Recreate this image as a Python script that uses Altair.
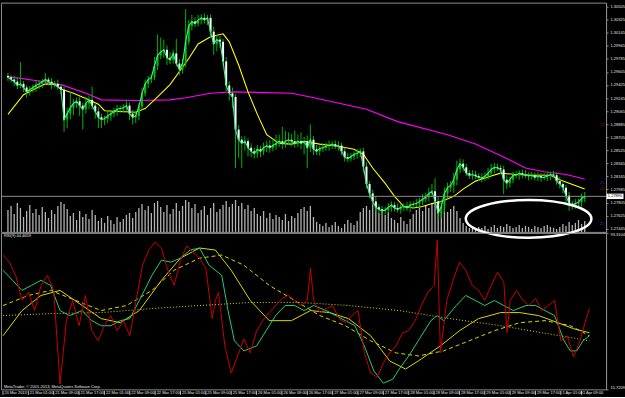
import altair as alt
import pandas as pd

# ---------------- data ----------------
close = [1.2953, 1.2950, 1.2947, 1.2942, 1.2944, 1.2939, 1.2933, 1.2936, 1.2939, 1.2942,
         1.2944, 1.2947, 1.2950, 1.2947, 1.2944, 1.2944, 1.2940, 1.2936, 1.2895, 1.2903,
         1.2911, 1.2917, 1.2920, 1.2914, 1.2909, 1.2917, 1.2922, 1.2914, 1.2906, 1.2898,
         1.2895, 1.2896, 1.2900, 1.2903, 1.2906, 1.2909, 1.2910, 1.2911, 1.2914, 1.2903,
         1.2898, 1.2900, 1.2913, 1.2931, 1.2944, 1.2950, 1.2953, 1.2969, 1.2983, 1.2988,
         1.2991, 1.2980, 1.2977, 1.2986, 1.2972, 1.2964, 1.2972, 1.3002, 1.3024, 1.3030,
         1.3027, 1.3032, 1.3035, 1.3032, 1.3035, 1.3016, 1.2999, 1.3005, 1.3002, 1.2975,
         1.2942, 1.2931, 1.2926, 1.2881, 1.2867, 1.2862, 1.2865, 1.2856, 1.2851, 1.2848,
         1.2854, 1.2851, 1.2856, 1.2859, 1.2856, 1.2859, 1.2862, 1.2865, 1.2862, 1.2865,
         1.2867, 1.2865, 1.2862, 1.2865, 1.2862, 1.2865, 1.2856, 1.2867, 1.2854, 1.2851,
         1.2855, 1.2856, 1.2858, 1.2859, 1.2861, 1.2858, 1.2859, 1.2851, 1.2843, 1.2841,
         1.2844, 1.2847, 1.2848, 1.2851, 1.2830, 1.2806, 1.2793, 1.2782, 1.2774, 1.2771,
         1.2769, 1.2770, 1.2774, 1.2777, 1.2773, 1.2771, 1.2774, 1.2775, 1.2773, 1.2777,
         1.2778, 1.2779, 1.2782, 1.2785, 1.2788, 1.2793, 1.2796, 1.2782, 1.2766, 1.2775,
         1.2793, 1.2801, 1.2804, 1.2812, 1.2826, 1.2834, 1.2829, 1.2821, 1.2818, 1.2819,
         1.2817, 1.2815, 1.2814, 1.2817, 1.2821, 1.2826, 1.2829, 1.2828, 1.2826, 1.2812,
         1.2807, 1.2812, 1.2818, 1.2818, 1.2821, 1.2819, 1.2818, 1.2817, 1.2818, 1.2815,
         1.2817, 1.2815, 1.2815, 1.2817, 1.2819, 1.2818, 1.2810, 1.2806, 1.2801, 1.2790,
         1.2779, 1.2777, 1.2779, 1.2781, 1.2786, 1.2789]
first_open = 1.2955

# upper / lower wick lengths in pips
wick_up = [4, 3, 5, 6, 30, 4, 3, 5, 4, 6,
           5, 4, 9, 3, 5, 4, 6, 3, 4, 8,
           22, 6, 5, 7, 4, 9, 5, 18, 4, 6,
           5, 4, 7, 3, 5, 6, 4, 5, 8, 4,
           5, 6, 4, 7, 6, 5, 4, 12, 29, 20,
           14, 6, 8, 5, 20, 6, 7, 45, 8, 9,
           6, 7, 5, 6, 4, 5, 7, 6, 5, 4,
           6, 5, 8, 4, 6, 5, 7, 4, 6, 5,
           6, 5, 7, 6, 8, 10, 12, 9, 20, 14,
           10, 8, 15, 9, 12, 6, 8, 21, 5, 6,
           4, 6, 5, 7, 4, 5, 6, 4, 5, 6,
           5, 4, 6, 4, 5, 6, 4, 5, 6, 4,
           5, 4, 6, 5, 4, 6, 5, 4, 6, 5,
           4, 6, 5, 7, 6, 8, 10, 18, 6, 9,
           8, 7, 6, 9, 12, 7, 6, 5, 4, 6,
           5, 4, 6, 5, 7, 8, 6, 5, 4, 5,
           6, 4, 5, 6, 4, 5, 6, 4, 5, 4,
           5, 4, 6, 5, 4, 5, 4, 6, 5, 4,
           5, 4, 6, 5, 7, 6]
wick_dn = [5, 4, 6, 5, 4, 6, 8, 5, 4, 6,
           5, 6, 4, 5, 7, 5, 4, 6, 17, 12,
           8, 10, 6, 14, 28, 6, 8, 5, 10, 15,
           12, 8, 6, 7, 5, 6, 5, 6, 4, 9,
           10, 8, 6, 5, 4, 6, 5, 4, 6, 5,
           8, 10, 6, 5, 4, 8, 6, 5, 4, 6,
           5, 4, 6, 5, 7, 9, 15, 10, 8, 6,
           8, 10, 15, 53, 25, 34, 10, 12, 8, 7,
           6, 8, 5, 6, 7, 5, 6, 5, 8, 6,
           5, 7, 6, 5, 8, 15, 28, 6, 8, 5,
           6, 5, 4, 6, 5, 4, 6, 5, 6, 5,
           4, 5, 6, 5, 8, 6, 7, 4, 6, 5,
           6, 5, 4, 6, 5, 4, 6, 5, 4, 6,
           5, 4, 6, 5, 4, 6, 5, 4, 9, 6,
           8, 7, 6, 10, 8, 5, 6, 4, 5, 6,
           4, 5, 6, 4, 5, 6, 5, 4, 6, 20,
           8, 6, 5, 4, 6, 5, 4, 6, 5, 4,
           5, 6, 4, 5, 6, 4, 5, 6, 8, 10,
           10, 6, 5, 4, 6, 5]

volume = [2200, 2600, 1800, 2900, 2400, 1500, 2100, 2700, 1900, 2300,
          1700, 2500, 2000, 1400, 2200, 1800, 2600, 3000, 2800, 2300,
          1600, 1900, 1200, 2100, 1500, 1800, 1300, 2200, 1700, 1100,
          1400, 900, 1600, 1200, 800, 1500, 1000, 1300, 1700, 1900,
          1400, 2000, 2400, 2800, 2200, 2600, 1900, 2900, 3100, 2500,
          2000, 2700, 1800, 2300, 2900, 2100, 2600, 3200, 3000, 2400,
          2800, 1900, 2200, 2600, 1700, 2400, 2900, 2000, 2300, 2700,
          3100, 2500, 2800, 3200, 2600, 2900, 2300, 2700, 2100, 2400,
          1800, 1600, 2100, 1400, 1900, 1300, 1700, 1500, 1200, 1800,
          1100, 1600, 1400, 1900, 2300, 2500, 2100, 2600, 1500, 1000,
          800, 600, 900, 500, 700, 1000, 600, 400, 800, 1200,
          900, 700, 1100, 2000, 2400, 2600, 2200, 2800, 2500, 1900,
          2300, 1700, 2000, 1400, 1200, 900, 1500, 1100, 800, 1300,
          1800, 2200, 2500, 2100, 2700, 2400, 2900, 3000, 2600, 2200,
          2500, 2000, 2300, 2600, 2100, 1400, 900, 600, 400, 500,
          300, 500, 400, 600, 300, 500, 700, 400, 600, 500,
          800, 600, 400, 500, 700, 400, 600, 500, 300, 600,
          500, 400, 600, 700, 500, 400, 300, 500, 800, 600,
          1000, 700, 900, 1200, 800, 1100]

fast_ma_bar = [0, 5, 10, 12, 15, 17, 21, 25, 29, 31, 36, 41, 44, 47, 52, 55, 58, 61, 65, 69,
               71, 74, 77, 80, 83, 87, 91, 95, 100, 106, 111, 114, 117, 121, 124, 127, 130,
               133, 136, 139, 143, 146, 150, 155, 158, 163, 169, 174, 177, 180, 185]
fast_ma = [1.2902, 1.2929, 1.2940, 1.2944, 1.2943, 1.2937, 1.2931, 1.2924, 1.2916, 1.2907,
           1.2906, 1.2905, 1.2910, 1.2922, 1.2943, 1.2961, 1.2979, 1.2999, 1.3009, 1.3013,
           1.3002, 1.2970, 1.2933, 1.2902, 1.2874, 1.2862, 1.2861, 1.2865, 1.2861, 1.2858,
           1.2854, 1.2847, 1.2828, 1.2807, 1.2789, 1.2775, 1.2773, 1.2775, 1.2779, 1.2782,
           1.2789, 1.2799, 1.2810, 1.2817, 1.2821, 1.2819, 1.2818, 1.2818, 1.2812, 1.2807,
           1.2799]

slow_ma_bar = [0, 10, 17, 25, 30, 41, 52, 57, 65, 72, 82, 91, 97, 115, 125, 141, 150, 160,
               166, 172, 179, 185]
slow_ma = [1.2954, 1.2948, 1.2943, 1.2931, 1.2922, 1.2921, 1.2922, 1.2925, 1.2931, 1.2933,
           1.2932, 1.2931, 1.2926, 1.2909, 1.2892, 1.2874, 1.2861, 1.2841, 1.2828, 1.2823,
           1.2819, 1.2813]

rsi_bar = [0, 2, 4, 6, 8, 10, 12, 14, 16, 18, 20, 22, 24, 26, 28, 30, 32, 34, 36, 38, 40,
           42, 44, 46, 48, 50, 52, 54, 56, 58, 60, 62, 64, 66, 67, 68, 70, 72, 74, 76, 78,
           80, 82, 84, 86, 88, 90, 92, 94, 96, 97, 98, 100, 102, 104, 106, 108, 110, 112,
           114, 116, 118, 120, 122, 124, 126, 128, 130, 132, 134, 136, 137, 138, 140, 142,
           144, 146, 148, 150, 152, 154, 156, 158, 159, 160, 162, 164, 166, 168, 170, 172,
           174, 176, 178, 180, 182, 184, 185]
rsi = [82.3, 78.8, 72.3, 59.8, 63.8, 54.8, 67.3, 72.3, 64.8, 18.3, 49.8, 59.8, 47.3, 62.3,
       44.8, 39.8, 47.3, 52.3, 44.8, 49.8, 42.3, 59.8, 77.3, 84.8, 88.8, 85.8, 74.8, 67.3,
       79.8, 86.8, 83.8, 80.8, 75.8, 50.8, 59.8, 63.8, 37.3, 23.8, 32.3, 40.8, 33.8, 44.8,
       49.8, 53.8, 57.3, 60.8, 62.3, 59.8, 57.3, 59.8, 75.8, 59.8, 53.8, 55.8, 57.3, 50.8,
       48.8, 52.3, 54.8, 33.8, 23.8, 21.8, 28.8, 33.8, 37.3, 43.8, 44.8, 49.8, 57.3, 63.8,
       67.3, 89.8, 33.8, 59.8, 69.8, 78.8, 74.8, 67.3, 64.8, 59.8, 67.3, 73.8, 68.8, 43.8,
       59.8, 64.8, 59.8, 57.3, 60.8, 54.8, 57.3, 59.8, 39.8, 42.3, 31.8, 39.8, 50.8, 55.8]

green_bar = [0, 3, 6, 9, 12, 15, 18, 21, 25, 28, 31, 34, 37, 40, 43, 47, 50, 53, 56, 59,
             62, 65, 69, 71, 73, 76, 80, 83, 86, 89, 92, 95, 98, 102, 105, 108, 111, 114,
             117, 120, 123, 125, 128, 131, 135, 137, 139, 143, 146, 149, 152, 155, 158, 161,
             165, 168, 171, 174, 177, 179, 181, 183, 185]
green = [74.8, 69.8, 64.8, 67.3, 69.8, 67.3, 54.8, 52.3, 54.8, 49.8, 47.3, 47.3, 49.8, 50.8,
         59.8, 72.3, 79.8, 78.8, 80.8, 84.8, 85.8, 77.3, 72.3, 54.8, 39.8, 34.8, 37.3, 44.8,
         52.3, 57.3, 57.3, 54.8, 57.3, 54.8, 52.3, 49.8, 47.3, 37.3, 24.8, 18.8, 20.8, 25.8,
         32.3, 39.8, 49.8, 52.3, 49.8, 57.3, 62.3, 59.8, 57.3, 59.8, 57.3, 54.8, 57.3, 57.3,
         54.8, 52.3, 39.8, 34.8, 34.8, 39.8, 42.3]

ysolid_bar = [0, 6, 12, 18, 25, 31, 37, 43, 50, 56, 62, 67, 72, 78, 84, 91, 97, 103, 109,
              116, 122, 127, 131, 138, 144, 150, 157, 163, 169, 175, 180, 185]
ysolid = [42.3, 54.8, 62.3, 64.8, 57.3, 50.8, 48.8, 54.8, 69.8, 80.8, 85.8, 84.8, 74.8, 59.8,
          49.8, 49.8, 54.8, 53.8, 50.8, 42.3, 29.8, 25.8, 29.8, 37.3, 44.8, 50.8, 53.8, 53.8,
          52.3, 48.8, 45.8, 43.8]

ydash_bar = [0, 8, 15, 23, 31, 39, 47, 54, 62, 69, 76, 84, 92, 100, 108, 116, 124, 131, 139,
             147, 155, 163, 171, 179, 185]
ydash = [57.3, 62.3, 64.8, 59.8, 54.8, 57.3, 64.8, 74.8, 80.8, 82.3, 77.3, 67.3, 59.8, 52.3,
         47.3, 39.8, 33.8, 32.3, 34.8, 39.8, 44.8, 48.8, 49.8, 47.3, 42.3]

ydot_bar = [0, 15, 31, 47, 62, 78, 94, 109, 125, 141, 157, 172, 185]
ydot = [52.3, 53.3, 53.8, 55.8, 57.3, 58.8, 58.8, 57.3, 54.8, 50.8, 47.3, 43.3, 39.8]

price_ticks = [1.30505, 1.30325, 1.30145, 1.29965, 1.29785, 1.29605, 1.29425, 1.29245,
               1.29065, 1.28885, 1.28705, 1.28525, 1.28345, 1.28165, 1.27985, 1.27805,
               1.27625, 1.27445]
rsi_ticks = [15.7209, 93.3104]

time_labels = ["20 Mar 2013", "21 Mar 01:00", "21 Mar 09:00", "21 Mar 17:00", "22 Mar 01:00",
               "22 Mar 09:00", "22 Mar 17:00", "25 Mar 01:00", "25 Mar 09:00", "25 Mar 17:00",
               "26 Mar 01:00", "26 Mar 09:00", "26 Mar 17:00", "27 Mar 01:00", "27 Mar 09:00",
               "27 Mar 17:00", "28 Mar 01:00", "28 Mar 09:00", "28 Mar 17:00", "29 Mar 01:00",
               "29 Mar 09:00", "29 Mar 17:00", "1 Apr 01:00", "1 Apr 09:00"]
time_label_bars = [0, 8, 16, 24, 32, 40, 48, 56, 64, 72, 80, 88, 96, 104, 112, 120, 128,
                   136, 144, 152, 160, 168, 176, 182.5]

current_price = [1.2789]
current_label = ["1.27890"]
ellipse_bar = [167]
ellipse_price = [1.2758]
side_tags = ["20", "21", "20", "21"]
side_tag_price = [1.2887, 1.2807, 1.2799, 1.2751]
side_tag_color = ["#c00000", "#2040ff", "#c00000", "#2040ff"]

# ---------------- tables ----------------
n = len(close)
opens = [first_open] + close[:-1]
candles = pd.DataFrame({
    "bar": list(range(n)),
    "open": opens,
    "close": close,
    "high": [max(o, c) + u / 10000 for o, c, u in zip(opens, close, wick_up)],
    "low": [min(o, c) - d / 10000 for o, c, d in zip(opens, close, wick_dn)],
    "volume": volume,
})
candles["body"] = ["#00c000" if c >= o else "#ffffff" for o, c in zip(opens, close)]


def sdf(b, v):
    return pd.DataFrame({"bar": b, "v": v})


FONT = "Liberation Sans"
GRAY = "#8c8c8c"
W = 607
H_MAIN = 230
H_RSI = 157

xscale = alt.Scale(domain=[-0.63, 190.25], nice=False, zero=False)
X = alt.X("bar:Q", scale=xscale, axis=None)

price_scale = alt.Scale(domain=[1.2740, 1.3056], nice=False, zero=False)
price_axis = alt.Axis(orient="right", values=price_ticks, format=".5f", title=None, grid=False,
                      labelColor="#e6e6e6", labelFont=FONT, labelFontSize=4, labelPadding=2,
                      tickColor=GRAY, tickSize=2, domainColor=GRAY, labelOverlap=False)


def PY(field):
    return alt.Y(field, scale=price_scale, axis=price_axis)


wicks = alt.Chart(candles).mark_rule(color="#00b400", strokeWidth=1).encode(
    x=X, y=PY("low:Q"), y2="high:Q")
bodies = alt.Chart(candles).mark_bar(width=2).encode(
    x=X, y=PY("open:Q"), y2="close:Q", color=alt.Color("body:N", scale=None))
close_line = alt.Chart(candles).mark_line(color="#3cf08c", strokeWidth=1.1).encode(
    x=X, y=PY("close:Q"))
fast_line = alt.Chart(sdf(fast_ma_bar, fast_ma)).mark_line(
    color="#ffff00", strokeWidth=1.1).encode(x=X, y=PY("v:Q"))
slow_line = alt.Chart(sdf(slow_ma_bar, slow_ma)).mark_line(
    color="#ff00ff", strokeWidth=1.1).encode(x=X, y=PY("v:Q"))
cur_rule = alt.Chart(pd.DataFrame({"v": current_price})).mark_rule(
    color=GRAY, strokeWidth=1).encode(y=PY("v:Q"))
box_path = "M-1,-0.32L1,-0.32L1,0.32L-1,0.32Z"
cur_box = alt.Chart(pd.DataFrame({"v": current_price})).mark_point(
    shape=box_path, size=289, filled=True, color="white", opacity=1).encode(
    x=alt.value(616), y=PY("v:Q"))
cur_text = alt.Chart(pd.DataFrame({"v": current_price, "t": current_label})).mark_text(
    font=FONT, fontSize=4, color="black", align="center", baseline="middle").encode(
    x=alt.value(616), y=PY("v:Q"), text="t:N")
tags = alt.Chart(pd.DataFrame({"v": side_tag_price, "t": side_tags, "c": side_tag_color})).mark_text(
    font=FONT, fontSize=3.5, align="right", baseline="middle").encode(
    x=alt.value(605), y=PY("v:Q"), text="t:N", color=alt.Color("c:N", scale=None))
ellipse_path = "M-1,0A1,0.3,0,1,1,1,0A1,0.3,0,1,1,-1,0Z"
ellipse = alt.Chart(pd.DataFrame({"bar": ellipse_bar, "v": ellipse_price})).mark_point(
    shape=ellipse_path, size=15876, filled=False, color="white", strokeWidth=2.5, opacity=1).encode(
    x=X, y=PY("v:Q"))

vol = alt.Chart(candles).mark_bar(width=1.3, color="#b4b4b4").encode(
    x=X, y=alt.Y("volume:Q", scale=alt.Scale(domain=[0, 23000], nice=False), axis=None))

price_layers = alt.layer(slow_line, fast_line, wicks, bodies, close_line, cur_rule,
                         tags, ellipse, cur_box, cur_text)
main = alt.layer(vol, price_layers).resolve_scale(y="independent").properties(
    width=W, height=H_MAIN)

rsi_scale = alt.Scale(domain=[15.7209, 93.3104], nice=False, zero=False)
rsi_axis = alt.Axis(orient="right", values=rsi_ticks, format=".4f", title=None, grid=False,
                    labelColor="#e6e6e6", labelFont=FONT, labelFontSize=4, labelPadding=2,
                    tickColor=GRAY, tickSize=2, domainColor=GRAY, labelFlush=True,
                    labelOverlap=False)


def RY(field):
    return alt.Y(field, scale=rsi_scale, axis=rsi_axis)


dotted = alt.Chart(sdf(ydot_bar, ydot)).mark_line(
    color="#d8d800", strokeWidth=1, strokeDash=[1, 2]).encode(x=X, y=RY("v:Q"))
dashed = alt.Chart(sdf(ydash_bar, ydash)).mark_line(
    color="#d8d800", strokeWidth=1, strokeDash=[4, 3]).encode(x=X, y=RY("v:Q"))
solid = alt.Chart(sdf(ysolid_bar, ysolid)).mark_line(
    color="#d8d800", strokeWidth=1).encode(x=X, y=RY("v:Q"))
green_line = alt.Chart(sdf(green_bar, green)).mark_line(
    color="#20d070", strokeWidth=1).encode(x=X, y=RY("v:Q"))
red_line = alt.Chart(sdf(rsi_bar, rsi)).mark_line(
    color="#c80000", strokeWidth=1).encode(x=X, y=RY("v:Q"))

rsi_title = alt.Chart(pd.DataFrame({"t": ["RSI(9) 44.4659"]})).mark_text(
    font=FONT, fontSize=4, color="#e6e6e6", align="left", baseline="middle").encode(
    x=alt.value(3), y=alt.value(3), text="t:N")
copyright_t = alt.Chart(pd.DataFrame({"t": ["MetaTrader, © 2001-2013, MetaQuotes Software Corp."]})).mark_text(
    font=FONT, fontSize=4, color="#e6e6e6", align="left", baseline="middle").encode(
    x=alt.value(3), y=alt.value(H_RSI - 2.5), text="t:N")

tl = pd.DataFrame({"bar": time_label_bars, "t": time_labels})
time_ticks = alt.Chart(tl).mark_rule(color="#e6e6e6", strokeWidth=0.8).encode(
    x=X, y=alt.value(H_RSI + 1.5), y2=alt.value(H_RSI + 5.5))
time_text = alt.Chart(tl).mark_text(
    font=FONT, fontSize=4, color="#e6e6e6", align="left", baseline="middle", dx=1.5).encode(
    x=X, y=alt.value(H_RSI + 4), text="t:N")

rsi_chart = alt.layer(dotted, dashed, solid, green_line, red_line, rsi_title, copyright_t,
                      time_ticks, time_text).properties(width=W, height=H_RSI)

chart = alt.vconcat(main, rsi_chart, spacing=1, bounds="flush").properties(
    background="black",
    padding={"left": 0, "top": 1, "right": 0, "bottom": 0},
).configure_view(stroke=GRAY, strokeWidth=1)

chart.save("out.html", embed_options={"renderer": "svg", "actions": False})
